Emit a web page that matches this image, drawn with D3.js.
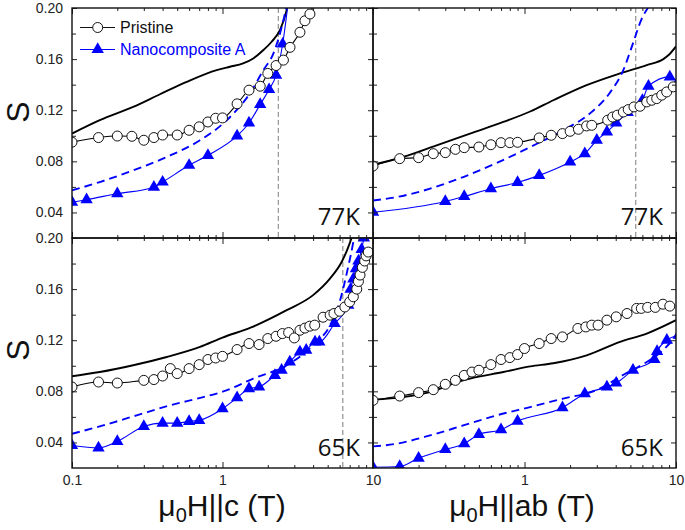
<!DOCTYPE html>
<html><head><meta charset="utf-8">
<script src="https://cdn.jsdelivr.net/npm/d3@7"></script>
<style>body{margin:0;background:#fff}svg{display:block}</style>
</head><body><svg id="c" width="685" height="530"></svg>
<script>
// ---------- data ----------
const xDomain = [0.1, 10];
const yDomain = [0.02, 0.20];
const xMajorTicks = [0.1, 1, 10];
const xMinorTicks = [0.2,0.3,0.4,0.5,0.6,0.7,0.8,0.9,2,3,4,5,6,7,8,9];
const yMajorTicks = [0.04, 0.08, 0.12, 0.16, 0.20];
const yMinorTicks = [0.06, 0.10, 0.14, 0.18];
const seriesNames = ["Pristine", "Nanocomposite A"];
const tempLabels = ["77K", "77K", "65K", "65K"];
const xTitles = ["H||c (T)", "H||ab (T)"];
const yTitle = "S";

// 77K, H||c
const pristinePts_c77 = [[0.1,0.095],[0.15,0.0986],[0.2,0.0998],[0.25,0.0996],[0.3,0.0965],[0.35,0.0986],[0.4,0.1006],[0.5,0.1006],[0.6,0.1043],[0.7,0.107],[0.8,0.1108],[0.9,0.1137],[1.0,0.114],[1.25,0.125],[1.5,0.1357],[1.78,0.1388],[2.0,0.1488],[2.27,0.155],[2.54,0.1592],[2.81,0.1692],[3.27,0.181],[3.53,0.190],[3.81,0.1953],[4.1,0.206]];
const pristineFit_c77 = [[0.1,0.1017],[0.153,0.1122],[0.255,0.1226],[0.384,0.1325],[0.578,0.1422],[0.915,0.1514],[1.12,0.154],[1.37,0.1566],[1.6,0.1605],[1.87,0.1671],[2.12,0.1736],[2.41,0.1828],[2.67,0.1985],[2.75,0.206]];
const nanoPts_c77 = [[0.1,0.048],[0.125,0.050],[0.2,0.0547],[0.35,0.0598],[0.4,0.0638],[0.6,0.0769],[0.8,0.0847],[1.25,0.0999],[1.5,0.110],[1.78,0.1245],[2.04,0.1362],[2.27,0.1475],[2.51,0.1718],[2.8,0.215]];
const nanoFit_c77 = [[0.1,0.0573],[0.153,0.0638],[0.255,0.0729],[0.426,0.0834],[0.709,0.0965],[1.01,0.1096],[1.24,0.12],[1.52,0.1331],[1.87,0.1514],[2.18,0.1645],[2.41,0.1801],[2.54,0.1906],[2.65,0.2],[2.7,0.205]];
const vline_c77 = 2.35;

// 77K, H||ab
const pristinePts_ab77 = [[0.1,0.0763],[0.15,0.0821],[0.2,0.0829],[0.25,0.086],[0.3,0.0868],[0.35,0.0894],[0.4,0.0907],[0.5,0.0912],[0.6,0.093],[0.7,0.0946],[0.8,0.0946],[0.9,0.0949],[1.25,0.0983],[1.5,0.1004],[1.78,0.1017],[2.0,0.1035],[2.27,0.1051],[2.57,0.1077],[2.78,0.1082],[3.54,0.1122],[3.82,0.1147],[4.1,0.1161],[4.49,0.1186],[4.84,0.1205],[5.28,0.1226],[5.79,0.1231],[6.41,0.1265],[6.92,0.1278],[7.46,0.1291],[8.05,0.1318],[8.68,0.1343],[9.6,0.1383]];
const pristineFit_ab77 = [[0.1,0.0773],[0.158,0.0834],[0.263,0.0925],[0.437,0.1017],[0.725,0.1108],[1.09,0.119],[1.55,0.1278],[2.57,0.1396],[4.27,0.1488],[6.41,0.1553],[8.25,0.160],[8.9,0.163],[10,0.170]];
const nanoPts_ab77 = [[0.1,0.0402],[0.3,0.0486],[0.4,0.0525],[0.6,0.0586],[0.9,0.0635],[1.25,0.069],[2.0,0.0795],[2.5,0.086],[3.0,0.0965],[3.5,0.103],[4.03,0.110],[4.8,0.1182],[6.0,0.1278],[6.58,0.1388],[9.1,0.1461],[10.3,0.142]];
const nanoFit_ab77 = [[0.1,0.0494],[0.143,0.052],[0.238,0.0586],[0.394,0.0677],[0.655,0.0787],[1.09,0.0912],[1.80,0.1043],[2.70,0.1174],[3.63,0.1331],[4.49,0.1514],[5.2,0.1723],[5.89,0.1906],[6.6,0.201]];
const vline_ab77 = 5.42;

// 65K, H||c
const pristinePts_c65 = [[0.1,0.0834],[0.15,0.0873],[0.2,0.0865],[0.3,0.0886],[0.35,0.0892],[0.4,0.092],[0.45,0.0978],[0.5,0.0939],[0.6,0.0978],[0.7,0.1009],[0.8,0.1049],[0.9,0.1061],[1.0,0.1074],[1.25,0.1127],[1.5,0.1174],[1.75,0.1166],[2.0,0.1213],[2.27,0.1231],[2.5,0.1252],[2.75,0.126],[3.0,0.1218],[3.27,0.1278],[3.53,0.1295],[3.8,0.131],[4.1,0.1318],[4.66,0.138],[5.19,0.1396],[5.5,0.1409],[6.0,0.1427],[6.5,0.146],[7.0,0.150],[7.4,0.154],[7.8,0.160],[8.0,0.166],[8.2,0.171],[8.5,0.177],[8.8,0.182],[9.0,0.186],[9.3,0.189]];
const pristineFit_c65 = [[0.1,0.0918],[0.153,0.0951],[0.255,0.1004],[0.426,0.1069],[0.709,0.1148],[1.0,0.1221],[1.55,0.130],[2.67,0.1435],[4.0,0.1553],[5.19,0.1684],[6.2,0.1814],[6.8,0.1919],[7.2,0.20],[7.4,0.205]];
const nanoPts_c65 = [[0.1,0.0376],[0.15,0.0358],[0.2,0.0408],[0.3,0.0525],[0.4,0.0551],[0.5,0.0551],[0.6,0.0565],[0.7,0.0573],[1.0,0.0664],[1.25,0.075],[1.5,0.0821],[1.75,0.0834],[2.23,0.0925],[2.47,0.0965],[2.8,0.103],[3.27,0.1108],[3.6,0.1122],[4.12,0.1187],[4.4,0.1187],[5.56,0.1331],[6.85,0.1475],[7.1,0.160],[7.4,0.168],[7.7,0.176],[8.0,0.182],[8.4,0.191],[8.7,0.20]];
const nanoFit_c65 = [[0.1,0.0468],[0.161,0.0533],[0.269,0.0612],[0.448,0.069],[0.745,0.0755],[1.05,0.0805],[1.6,0.090],[2.67,0.1004],[4.0,0.116],[5.19,0.1318],[6.0,0.150],[6.8,0.176],[7.4,0.197],[7.6,0.205]];
const vline_c65 = 6.3;

// 65K, H||ab
const pristinePts_ab65 = [[0.1,0.0729],[0.15,0.0763],[0.2,0.079],[0.25,0.0813],[0.3,0.0855],[0.35,0.0886],[0.4,0.0925],[0.45,0.0951],[0.5,0.0965],[0.6,0.1009],[0.7,0.1049],[0.8,0.1064],[0.9,0.1088],[1.0,0.1135],[1.25,0.1174],[1.5,0.1213],[1.78,0.1226],[2.25,0.1292],[2.54,0.1304],[2.78,0.1318],[3.06,0.1318],[3.5,0.1357],[4.03,0.1383],[4.75,0.1409],[5.5,0.1449],[5.9,0.1449],[6.5,0.1457],[7.3,0.1457],[8.2,0.1482],[9.1,0.1467]];
const pristineFit_ab65 = [[0.1,0.0735],[0.158,0.0755],[0.263,0.081],[0.355,0.087],[0.437,0.090],[0.725,0.0951],[1.09,0.0995],[1.55,0.102],[2.57,0.1082],[4.27,0.1187],[6.41,0.1252],[10,0.1357]];
const nanoPts_ab65 = [[0.1,0.0206],[0.15,0.0212],[0.2,0.0277],[0.3,0.0345],[0.4,0.039],[0.5,0.0463],[0.7,0.05],[0.9,0.0567],[1.78,0.0672],[2.5,0.0782],[3.5,0.0834],[4.03,0.0865],[5.2,0.0965],[7.2,0.105],[7.5,0.1112],[8.7,0.120],[10.4,0.124]];
const nanoFit_ab65 = [[0.1,0.0369],[0.143,0.039],[0.238,0.0455],[0.394,0.0533],[0.655,0.0612],[1.09,0.0677],[1.80,0.0743],[3.0,0.081],[4.5,0.093],[6.41,0.103],[7.46,0.108],[10,0.123]];
const vline_ab65 = null;

// ---------- drawing ----------
const BLUE = "#0000ff";
const svg = d3.select("#c");
const FONT = "Arial, 'Liberation Sans', sans-serif";
const colsPx = [[72,373],[373,676]];
const rowsPx = [[8,238],[238,468]];

const panels = [
  {c:0,r:0,pp:pristinePts_c77,pf:pristineFit_c77,np:nanoPts_c77,nf:nanoFit_c77,vl:vline_c77},
  {c:1,r:0,pp:pristinePts_ab77,pf:pristineFit_ab77,np:nanoPts_ab77,nf:nanoFit_ab77,vl:vline_ab77},
  {c:0,r:1,pp:pristinePts_c65,pf:pristineFit_c65,np:nanoPts_c65,nf:nanoFit_c65,vl:vline_c65},
  {c:1,r:1,pp:pristinePts_ab65,pf:pristineFit_ab65,np:nanoPts_ab65,nf:nanoFit_ab65,vl:vline_ab65}
];

const tri = d3.symbol().type(d3.symbolTriangle).size(66);
const xFmt = d => d === 0.1 ? "0.1" : d === 1 ? "1" : "10";

panels.forEach((p, i) => {
  const [x0, x1] = colsPx[p.c], [y0, y1] = rowsPx[p.r];
  const x = d3.scaleLog().domain(xDomain).range([x0, x1]);
  const y = d3.scaleLinear().domain(yDomain).range([y1, y0]);
  const id = "clip" + i;
  svg.append("clipPath").attr("id", id).append("rect")
    .attr("x", x0).attr("y", y0).attr("width", x1 - x0).attr("height", y1 - y0);
  const g = svg.append("g").attr("clip-path", `url(#${id})`);

  if (p.vl != null) {
    g.append("line").attr("x1", x(p.vl)).attr("x2", x(p.vl)).attr("y1", y0).attr("y2", y1)
      .attr("stroke", "#9a9a9a").attr("stroke-width", 1.3).attr("stroke-dasharray", "5,3");
  }
  const smooth = d3.line().x(d => x(d[0])).y(d => y(d[1])).curve(d3.curveMonotoneX);

  g.append("path").attr("d", smooth(p.pf)).attr("fill", "none").attr("stroke", "#000").attr("stroke-width", 1.9);
  g.append("path").attr("d", smooth(p.nf)).attr("fill", "none").attr("stroke", BLUE).attr("stroke-width", 1.9).attr("stroke-dasharray", "8,5");
  g.append("path").attr("d", smooth(p.np)).attr("fill", "none").attr("stroke", BLUE).attr("stroke-width", 1.1);
  g.append("path").attr("d", smooth(p.pp)).attr("fill", "none").attr("stroke", "#000").attr("stroke-width", 1.1);

  g.selectAll(null).data(p.np).enter().append("path")
    .attr("d", tri).attr("transform", d => `translate(${x(d[0])},${y(d[1])})`).attr("fill", BLUE);
  g.selectAll(null).data(p.pp).enter().append("circle")
    .attr("cx", d => x(d[0])).attr("cy", d => y(d[1])).attr("r", 5)
    .attr("fill", "#fff").attr("stroke", "#111").attr("stroke-width", 1);

  // axes with inward ticks
  const labelX = p.r === 1;
  const axes = svg.append("g").attr("font-family", FONT);
  axes.append("g").attr("transform", `translate(0,${y1})`)
    .call(d3.axisBottom(x).tickValues(xMinorTicks).tickSize(-3).tickFormat(""));
  axes.append("g").attr("transform", `translate(0,${y1})`)
    .call(d3.axisBottom(x).tickValues(xMajorTicks).tickSize(-6).tickPadding(7)
      .tickFormat(d => (labelX && !(p.c === 1 && d === 0.1)) ? xFmt(d) : ""));
  axes.append("g").attr("transform", `translate(0,${y0})`)
    .call(d3.axisTop(x).tickValues(xMinorTicks).tickSize(-3).tickFormat(""));
  axes.append("g").attr("transform", `translate(0,${y0})`)
    .call(d3.axisTop(x).tickValues(xMajorTicks).tickSize(-6).tickFormat(""));
  axes.append("g").attr("transform", `translate(${x0},0)`)
    .call(d3.axisLeft(y).tickValues(yMinorTicks).tickSize(-4).tickFormat(""));
  axes.append("g").attr("transform", `translate(${x0},0)`)
    .call(d3.axisLeft(y).tickValues(yMajorTicks).tickSize(-5).tickPadding(9)
      .tickFormat(d => p.c === 0 ? d3.format(".2f")(d) : ""));
  axes.append("g").attr("transform", `translate(${x1},0)`)
    .call(d3.axisRight(y).tickValues(yMinorTicks).tickSize(-4).tickFormat(""));
  axes.append("g").attr("transform", `translate(${x1},0)`)
    .call(d3.axisRight(y).tickValues(yMajorTicks).tickSize(-5).tickFormat(""));
  axes.selectAll(".domain").remove();
  axes.selectAll(".tick line").attr("stroke", "#222").attr("stroke-width", 1);
  axes.selectAll(".tick text").attr("font-size", 14).attr("fill", "#222").attr("font-family", FONT);

  svg.append("rect").attr("x", x0).attr("y", y0).attr("width", x1 - x0).attr("height", y1 - y0)
    .attr("fill", "none").attr("stroke", "#111").attr("stroke-width", 1.4);

  svg.append("text").attr("x", x1 - 13).attr("y", p.r === 0 ? 225 : 456)
    .attr("text-anchor", "end").attr("font-family", "'Open Sans', sans-serif")
    .attr("font-size", 24).attr("fill", "#111").text(tempLabels[i]);
});

// y titles
[[18, 112], [18, 350]].forEach(([cx, cy]) => {
  svg.append("text").attr("transform", `translate(${cx},${cy}) rotate(-90)`)
    .attr("text-anchor", "middle").attr("dominant-baseline", "central")
    .attr("font-family", FONT).attr("font-size", 32).attr("fill", "#111").text(yTitle);
});
// x titles
[[222, 0], [522, 1]].forEach(([cx, k]) => {
  const t = svg.append("text").attr("x", cx).attr("y", 516).attr("text-anchor", "middle")
    .attr("font-family", FONT).attr("font-size", 30).attr("fill", "#111");
  t.append("tspan").text("\u03bc");
  t.append("tspan").attr("font-size", 20).attr("dy", 6).text("0");
  t.append("tspan").attr("dy", -6).text(xTitles[k]);
});

// legend
const lg = svg.append("g").attr("font-family", FONT);
lg.append("line").attr("x1", 80).attr("x2", 115).attr("y1", 27.5).attr("y2", 27.5).attr("stroke", "#111").attr("stroke-width", 1.2);
lg.append("circle").attr("cx", 97.7).attr("cy", 27.5).attr("r", 5).attr("fill", "#fff").attr("stroke", "#111");
lg.append("text").attr("x", 120).attr("y", 33).attr("font-size", 16).attr("fill", "#111").text(seriesNames[0]);
lg.append("line").attr("x1", 80).attr("x2", 115).attr("y1", 49.5).attr("y2", 49.5).attr("stroke", BLUE).attr("stroke-width", 1.2);
lg.append("path").attr("d", tri).attr("transform", "translate(97.7,49.5)").attr("fill", BLUE);
lg.append("text").attr("x", 120).attr("y", 55).attr("font-size", 16).attr("fill", BLUE).text(seriesNames[1]);
</script></body></html>
